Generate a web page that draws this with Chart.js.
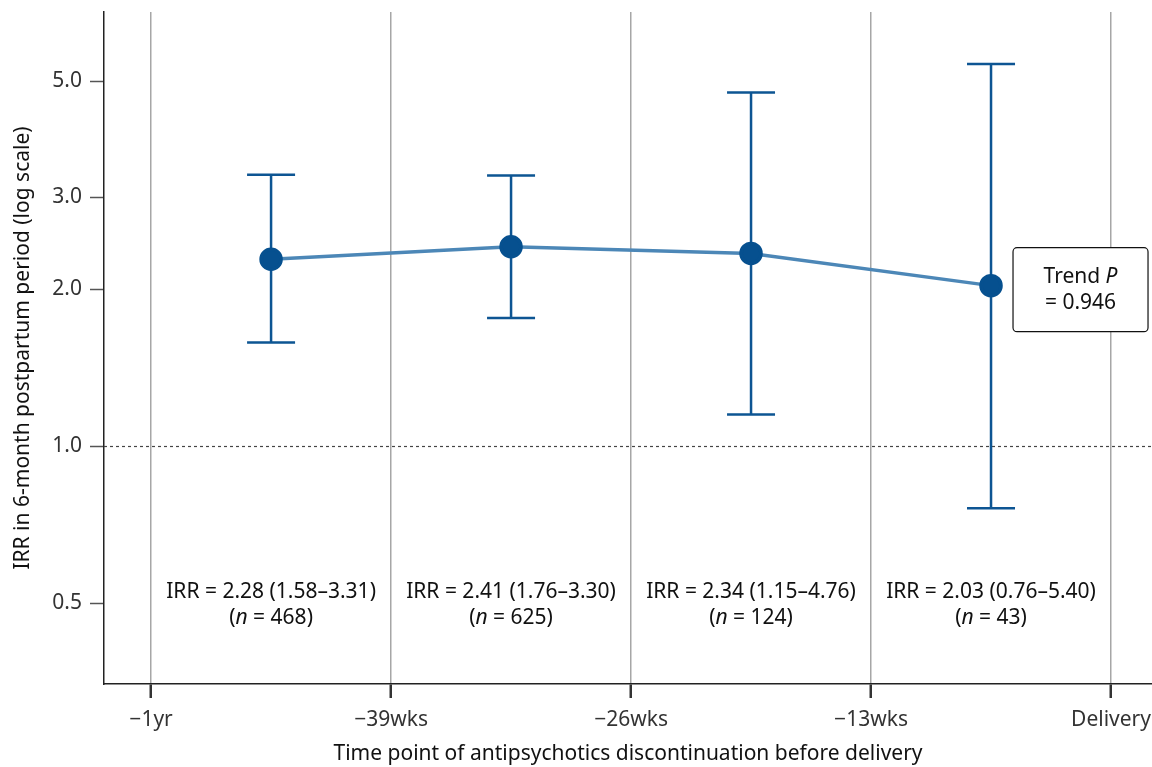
<!DOCTYPE html>
<html>
<head>
<meta charset="utf-8">
<script src="https://cdn.jsdelivr.net/npm/chart.js@4"></script>
<style>
  html, body { margin: 0; padding: 0; background: #fff; }
  #wrap { width: 1152px; height: 767px; }
</style>
</head>
<body>
<div id="wrap"><canvas id="myChart"></canvas></div>
<script>
// data
var weeks = [-45.5, -32.5, -19.5, -6.5];       // midpoints of each 13-week window
var irr = [2.28, 2.41, 2.34, 2.03];
var lower = [1.58, 1.76, 1.15, 0.76];
var upper = [3.31, 3.30, 4.76, 5.40];
var counts = [468, 625, 124, 43];

var xTicks = [-52, -39, -26, -13, 0];
var xTickLabels = ['\u22121yr', '\u221239wks', '\u221226wks', '\u221213wks', 'Delivery'];
var yTicks = [0.5, 1.0, 2.0, 3.0, 5.0];

var trendP = '0.946';

var FONT = "'Noto Sans', 'Open Sans', sans-serif";
var FS = 21;
var dark = '#06508f';
var lineBlue = '#4c87b7';

var points = weeks.map(function(w, i) { return {x: w, y: irr[i]}; });

// draw a line of text where one piece is italic, centred on cx
function mixedText(ctx, parts, cx, y) {
  var widths = parts.map(function(p) {
    ctx.font = (p[1] ? 'italic ' : '') + FS + 'px ' + FONT;
    return ctx.measureText(p[0]).width;
  });
  var total = widths.reduce(function(a, b) { return a + b; }, 0);
  var x = cx - total / 2;
  ctx.textAlign = 'left';
  parts.forEach(function(p, i) {
    ctx.font = (p[1] ? 'italic ' : '') + FS + 'px ' + FONT;
    ctx.fillText(p[0], x, y);
    x += widths[i];
  });
}

// dotted reference line, error bars and text labels
var extras = {
  id: 'extras',
  beforeDatasetsDraw: function(chart) {
    var ctx = chart.ctx, xs = chart.scales.x, ys = chart.scales.y, a = chart.chartArea;
    ctx.save();
    // reference line at IRR = 1
    ctx.strokeStyle = '#444';
    ctx.lineWidth = 1.2;
    ctx.setLineDash([3, 3]);
    var y1 = Math.round(ys.getPixelForValue(1)) + 0.5;
    ctx.beginPath();
    ctx.moveTo(a.left, y1);
    ctx.lineTo(a.right, y1);
    ctx.stroke();
    ctx.setLineDash([]);

    // confidence intervals
    ctx.strokeStyle = '#0d5593';
    ctx.lineWidth = 2.5;
    weeks.forEach(function(w, i) {
      var px = xs.getPixelForValue(w);
      var lo = ys.getPixelForValue(lower[i]);
      var hi = ys.getPixelForValue(upper[i]);
      ctx.beginPath();
      ctx.moveTo(px, lo); ctx.lineTo(px, hi);
      ctx.moveTo(px - 24, lo); ctx.lineTo(px + 24, lo);
      ctx.moveTo(px - 24, hi); ctx.lineTo(px + 24, hi);
      ctx.stroke();
    });
    ctx.restore();
  },
  afterDatasetsDraw: function(chart) {
    var ctx = chart.ctx, xs = chart.scales.x, ys = chart.scales.y;
    ctx.save();
    ctx.fillStyle = '#111';
    ctx.textBaseline = 'middle';
    var base = ys.getPixelForValue(0.5);
    weeks.forEach(function(w, i) {
      var px = xs.getPixelForValue(w);
      var line1 = 'IRR = ' + irr[i].toFixed(2) + ' (' + lower[i].toFixed(2) + '\u2013' + upper[i].toFixed(2) + ')';
      mixedText(ctx, [[line1, false]], px, base - 11);
      mixedText(ctx, [['(', false], ['n', true], [' = ' + counts[i] + ')', false]], px, base + 15);
    });

    // trend box beside the last point
    var lx = xs.getPixelForValue(weeks[weeks.length - 1]);
    var ly = ys.getPixelForValue(irr[irr.length - 1]);
    var bx = lx + 22, by = ly - 38, bw = 135, bh = 84;
    ctx.fillStyle = '#fff';
    ctx.strokeStyle = '#111';
    ctx.lineWidth = 1.2;
    ctx.beginPath();
    ctx.roundRect(bx, by, bw, bh, 4);
    ctx.fill();
    ctx.stroke();
    ctx.fillStyle = '#111';
    var cx = bx + bw / 2;
    mixedText(ctx, [['Trend ', false], ['P', true]], cx, by + 29);
    mixedText(ctx, [['= ' + trendP, false]], cx, by + 55);
    ctx.restore();
  }
};

const config = {
  type: 'line',
  data: {
    datasets: [{
      data: points,
      borderColor: lineBlue,
      borderWidth: 3.5,
      pointBackgroundColor: dark,
      pointBorderColor: dark,
      pointRadius: 10,
      tension: 0
    }]
  },
  options: {
    responsive: false,
    animation: false,
    layout: { autoPadding: false, padding: { top: 12, right: 0, left: 0, bottom: 0 } },
    plugins: { legend: { display: false }, tooltip: { enabled: false } },
    scales: {
      x: {
        type: 'linear',
        min: -54.55,
        max: 2.22,
        afterBuildTicks: function(s) { s.ticks = xTicks.map(function(v) { return {value: v}; }); },
        afterFit: function(s) { s.height = 83; s.paddingLeft = 0; s.paddingRight = 0; },
        grid: { color: '#a6a6a6', lineWidth: 1.5, tickColor: '#333', tickLength: 14, tickWidth: 2.5 },
        border: { display: true, color: '#222', width: 1.5 },
        ticks: {
          color: '#333',
          font: { family: FONT, size: FS },
          padding: 9,
          maxRotation: 0,
          callback: function(v) { var i = xTicks.indexOf(v); return i >= 0 ? xTickLabels[i] : ''; }
        },
        title: {
          display: true,
          text: 'Time point of antipsychotics discontinuation before delivery',
          color: '#111',
          font: { family: FONT, size: FS },
          padding: { top: 4, bottom: 0 }
        }
      },
      y: {
        type: 'logarithmic',
        min: 0.35,
        max: 6.79,
        afterBuildTicks: function(s) { s.ticks = yTicks.map(function(v) { return {value: v}; }); },
        afterFit: function(s) { s.width = 104; s.paddingTop = 0; s.paddingBottom = 0; },
        grid: { drawOnChartArea: false, tickColor: '#555', tickLength: 14, tickWidth: 1.5 },
        border: { display: true, color: '#222', width: 1.5 },
        ticks: {
          color: '#333',
          font: { family: FONT, size: FS },
          padding: 8,
          callback: function(v) { return Number(v).toFixed(1); }
        },
        title: {
          display: true,
          text: 'IRR in 6-month postpartum period (log scale)',
          color: '#111',
          font: { family: FONT, size: FS },
          padding: { top: 10, bottom: 0 }
        }
      }
    }
  },
  plugins: [extras]
};

var canvas = document.getElementById('myChart');
canvas.width = 1152;
canvas.height = 767;
var myChart = new Chart(canvas, config);
</script>
</body>
</html>
